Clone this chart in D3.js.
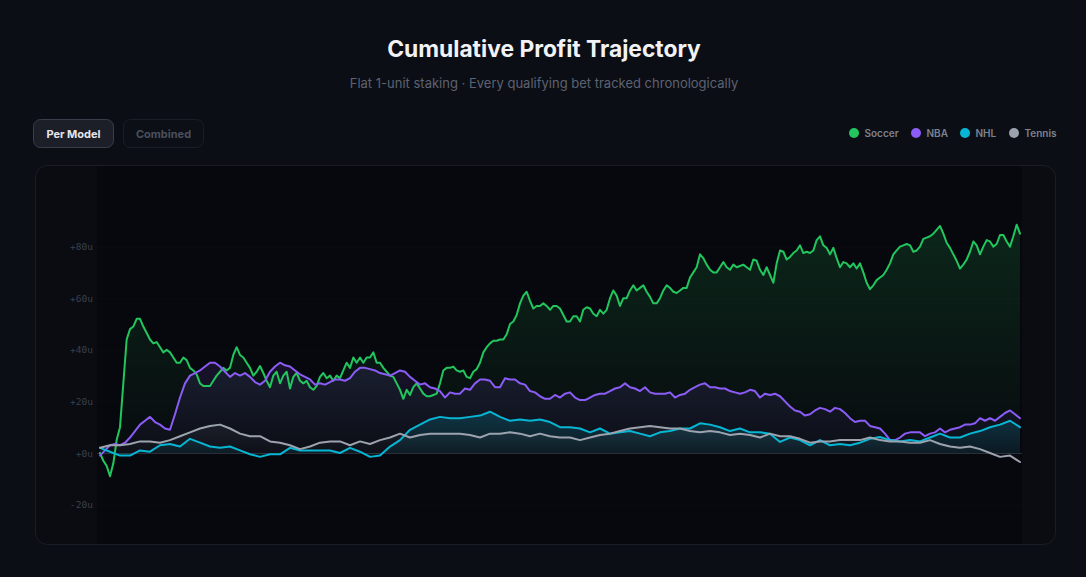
<!DOCTYPE html>
<html>
<head>
<meta charset="utf-8">
<script src="https://cdn.jsdelivr.net/npm/d3@7/dist/d3.min.js"></script>
<style>
  html, body { margin: 0; padding: 0; background: #0c0e15; }
  svg { display: block; }
  text { font-family: Inter, "Noto Sans", sans-serif; }
  .yaxis text { font-family: "DejaVu Sans Mono", "Liberation Mono", monospace; }
</style>
</head>
<body>
<svg id="chart" width="1086" height="577"></svg>
<script>
// ---------- DATA ----------
const titleText = "Cumulative Profit Trajectory";
const subtitleText = "Flat 1-unit staking · Every qualifying bet tracked chronologically";
const buttons = ["Per Model", "Combined"];
const seriesNames = ["Soccer", "NBA", "NHL", "Tennis"];
const seriesColors = ["#22c55e", "#8b5cf6", "#06b6d4", "#9ca3af"];
const yTicks = [-20, 0, 20, 40, 60, 80];

const soccer = [
  0,-3,-5,-9,-4,5,10,27,44,48,49,52,52,49,46.5,44,42.5,43,41,39,40,39,37,35,35,37,36,33,32,30.5,
  27,26,26,26,28,30,31.5,33,32,33,38,41,38,37,35,33,30,31.5,
  33.7,31,28,25.5,30,31.5,27,30,31.5,25,29.5,31,28,27,28,25.5,24.5,26,29.5,31,29,30,28,30,29,32,
  35,33,37,35,37,35,37,37,39,35,35,33,31.5,30,29.5,27,24.5,21,24.5,22.5,25.5,27,25,23,
  22,22,22.5,23,27,32,33,33,33.5,32,31.5,32,29.5,29,31.5,32.5,35,39,41,42.5,43.5,43.5,44,44,
  46,50,51,53.5,58,61,62.5,59,56,57,57,58,57,55.5,57,57,56,53.5,51,51,53,53,51,55.5,56.5,
  56,54,53,55.5,54,55.5,60,63,61,57,60,60,63,65,63,64,65,62.5,60.5,58,58,60,63,65,64,62.5,62,
  63,64,64,68,70,72,77,75.5,73,71,70,70,72,74,72,71,73,72,72.5,73,72,71,
  75,74.5,71,69,72,69,66,73.5,78.5,78,75,76,77.5,78.5,80.5,77.5,78,77.5,78.5,82.5,84,80.5,79.5,
  77,79.5,75.5,72,74,73.5,72,73.5,71.5,73.5,70,66,63.5,65,67,68,69,71,73.5,77,78.5,80,80.5,81,80.5,
  78,78.5,80,83,83.5,84,85,86.5,88,85,81.5,79.5,77,74.5,71.5,73,75,78,82,80.5,77,80,82.5,82,80,81,
  84.5,84.5,82,80,84,88.5,85
];

const nba = [
  -1,1,3,3.5,3,4,6,8.5,11,12.5,14,12,11,9.5,9,15,21.5,27,30,31,32,33.5,35,35,33.5,31.5,29.5,31,30,31,
  29.5,27.5,26.5,28,31.5,33.5,35,34,33.5,32,30.5,29.5,28.5,26.5,27,26.5,27.5,28.5,28.5,28,29,31.5,33,33,
  32.5,32,31,30.5,30,31,32,31.5,29.5,28,26.5,27,25.5,25,24,21.5,23.5,23,23,25,24.5,27,28.5,28.5,28,
  25.5,25.5,29,28.5,28.5,27,26.5,24,23.5,22,21,21,22.5,21.5,23,23.5,21.5,20.5,20.5,21.5,22.5,23,23,
  24,25,25.5,27,25.5,25,24,25.5,23.5,23,23,23,23.5,21.5,22.5,23,24.5,25.5,26.5,27,25.5,25.5,25,25,
  24,23.5,23,23.5,24.5,24,21.5,23,22.5,23,22,20,18,16.5,16,14.5,15,16.5,17.5,17,16,17.5,17,15.5,
  13.5,12,12.5,12.5,10.5,10,9.5,7.5,5,5,6,7.5,8,8,8,6.5,7.5,8,9.5,8,9,9.5,10,11,11,11.5,13.5,12.5,
  13.5,12.5,14,15.5,16.5,15,13.5
];

const nhl = [
  2,0.5,-1,-1,1,0.5,3,3.5,2.5,5.5,4,2.5,2,2.5,1,-0.5,-1.5,-0.5,-0.5,2,1,1,1,1,0,2,0.5,-1.5,-1,2.5,
  5,9,11,13,14,13.5,13.5,14,14.5,16,14,12.5,13,12.5,13,12,10,10,9.5,8,9.5,7.5,8,8.5,7.5,6.5,8,8.5,
  9.5,9.5,11.5,11,10,8.5,9.5,8,8,7.5,4.3,6,5,3,5,3,3.5,3,4,5.5,6.2,5,4.5,5,4.5,6,7.5,6,6,7.5,8.5,
  10,11,12.5,10
];

const tennis = [
  2,3,3,3.5,4.5,4.5,4,5,6.5,8,9.5,10.5,11,9.5,7.5,6.5,6.5,4.5,4,3,1.5,2.5,4,4.5,4.5,3,4.5,3.5,5,6,
  7.5,6,7,7.5,7.5,7.5,7.5,7,6,7.5,7.5,8,7.5,6.5,7.5,6.5,6,6,5,6,7,7.5,8.5,9.5,10,10.5,10,9.5,9.5,
  8.5,8,8.5,8,7,7.5,7,6,7.5,6.5,6.5,5.5,4,4.5,4.5,5,5,5,6,5,4.5,4.5,4,4,5,3.5,2.5,2,2.5,1.5,0,
  -1.5,-1,-3.5
];

const seriesData = [soccer, nba, nhl, tennis];

// ---------- LAYOUT ----------
const W = 1086, H = 577;
const svg = d3.select("#chart");
const defs = svg.append("defs");

svg.append("rect").attr("width", W).attr("height", H).attr("fill", "#0c0e15");

// Title
svg.append("text").attr("x", 544).attr("y", 57).attr("text-anchor", "middle")
  .attr("fill", "#f1f2f6").attr("font-size", 22.8).attr("font-weight", 700)
  .text(titleText);
svg.append("text").attr("x", 544).attr("y", 88).attr("text-anchor", "middle")
  .attr("fill", "#5d6272").attr("font-size", 13)
  .text(subtitleText);

// Buttons
const btnX = [33, 123];
buttons.forEach((b, i) => {
  const g = svg.append("g");
  g.append("rect").attr("x", btnX[i] + 0.5).attr("y", 119.5).attr("width", 80).attr("height", 28)
    .attr("rx", 7)
    .attr("fill", i === 0 ? "#1d1f28" : "#0d0f16")
    .attr("stroke", i === 0 ? "#3a3d4a" : "#1b1e27");
  g.append("text").attr("x", btnX[i] + 40.5).attr("y", 137.5).attr("text-anchor", "middle")
    .attr("font-size", 11).attr("font-weight", 700)
    .attr("fill", i === 0 ? "#e4e6ec" : "#4a4f5e")
    .text(b);
});

// Legend
const legendX = [854, 916, 965, 1014];
seriesNames.forEach((n, i) => {
  svg.append("circle").attr("cx", legendX[i]).attr("cy", 133).attr("r", 5).attr("fill", seriesColors[i]);
  svg.append("text").attr("x", legendX[i] + 10.5).attr("y", 137).attr("font-size", 10)
    .attr("font-weight", 600).attr("fill", "#7d8290").text(n);
});

// Panel
svg.append("rect").attr("x", 35.5).attr("y", 165.5).attr("width", 1020).attr("height", 379)
  .attr("rx", 12).attr("fill", "#0a0c12").attr("stroke", "#1a1d26");

// Plot background
svg.append("rect").attr("x", 97).attr("y", 166).attr("width", 925).attr("height", 378)
  .attr("fill", "#07080d");

const y = d3.scaleLinear().domain([-30, 105]).range([530.4, 182.1]);
const xRange = [100, 1020];

// Grid + axis
const yAxis = d3.axisLeft(y).tickValues(yTicks)
  .tickFormat(d => (d < 0 ? "-" : "+") + Math.abs(d) + "u")
  .tickSize(0).tickPadding(4);
const axisG = svg.append("g").attr("class", "yaxis").attr("transform", "translate(97,0)").call(yAxis);
axisG.select(".domain").remove();
axisG.selectAll("text").attr("font-size", 9.5).attr("fill", "#3b404d");

svg.append("g").selectAll("line").data(yTicks).join("line")
  .attr("x1", 97).attr("x2", 1022)
  .attr("y1", d => y(d) + 0.5).attr("y2", d => y(d) + 0.5)
  .attr("stroke", d => d === 0 ? "#2a2e3a" : "#ffffff")
  .attr("stroke-opacity", d => d === 0 ? 1 : 0.025)
  .attr("stroke-width", 1);

// Gradients
const gradStops = [
  [0.16, 0.015],
  [0.13, 0.03],
  [0.2, 0.07],
  [0.08, 0.02]
];
seriesData.forEach((data, i) => {
  const top = y(d3.max(data));
  const gr = defs.append("linearGradient").attr("id", "grad" + i)
    .attr("gradientUnits", "userSpaceOnUse")
    .attr("x1", 0).attr("x2", 0).attr("y1", top).attr("y2", y(0));
  gr.append("stop").attr("offset", 0).attr("stop-color", seriesColors[i]).attr("stop-opacity", gradStops[i][0]);
  gr.append("stop").attr("offset", 1).attr("stop-color", seriesColors[i]).attr("stop-opacity", gradStops[i][1]);
});

// Areas
seriesData.forEach((data, i) => {
  const x = d3.scaleLinear().domain([0, data.length - 1]).range(xRange);
  const area = d3.area().x((d, j) => x(j)).y0(y(0)).y1(d => y(d));
  svg.append("path").datum(data).attr("d", area).attr("fill", `url(#grad${i})`);
});

// Lines
seriesData.forEach((data, i) => {
  const x = d3.scaleLinear().domain([0, data.length - 1]).range(xRange);
  const line = d3.line().x((d, j) => x(j)).y(d => y(d));
  svg.append("path").datum(data).attr("d", line).attr("fill", "none")
    .attr("stroke", seriesColors[i]).attr("stroke-width", 2)
    .attr("stroke-linejoin", "round").attr("stroke-linecap", "round");
});
</script>
</body>
</html>
